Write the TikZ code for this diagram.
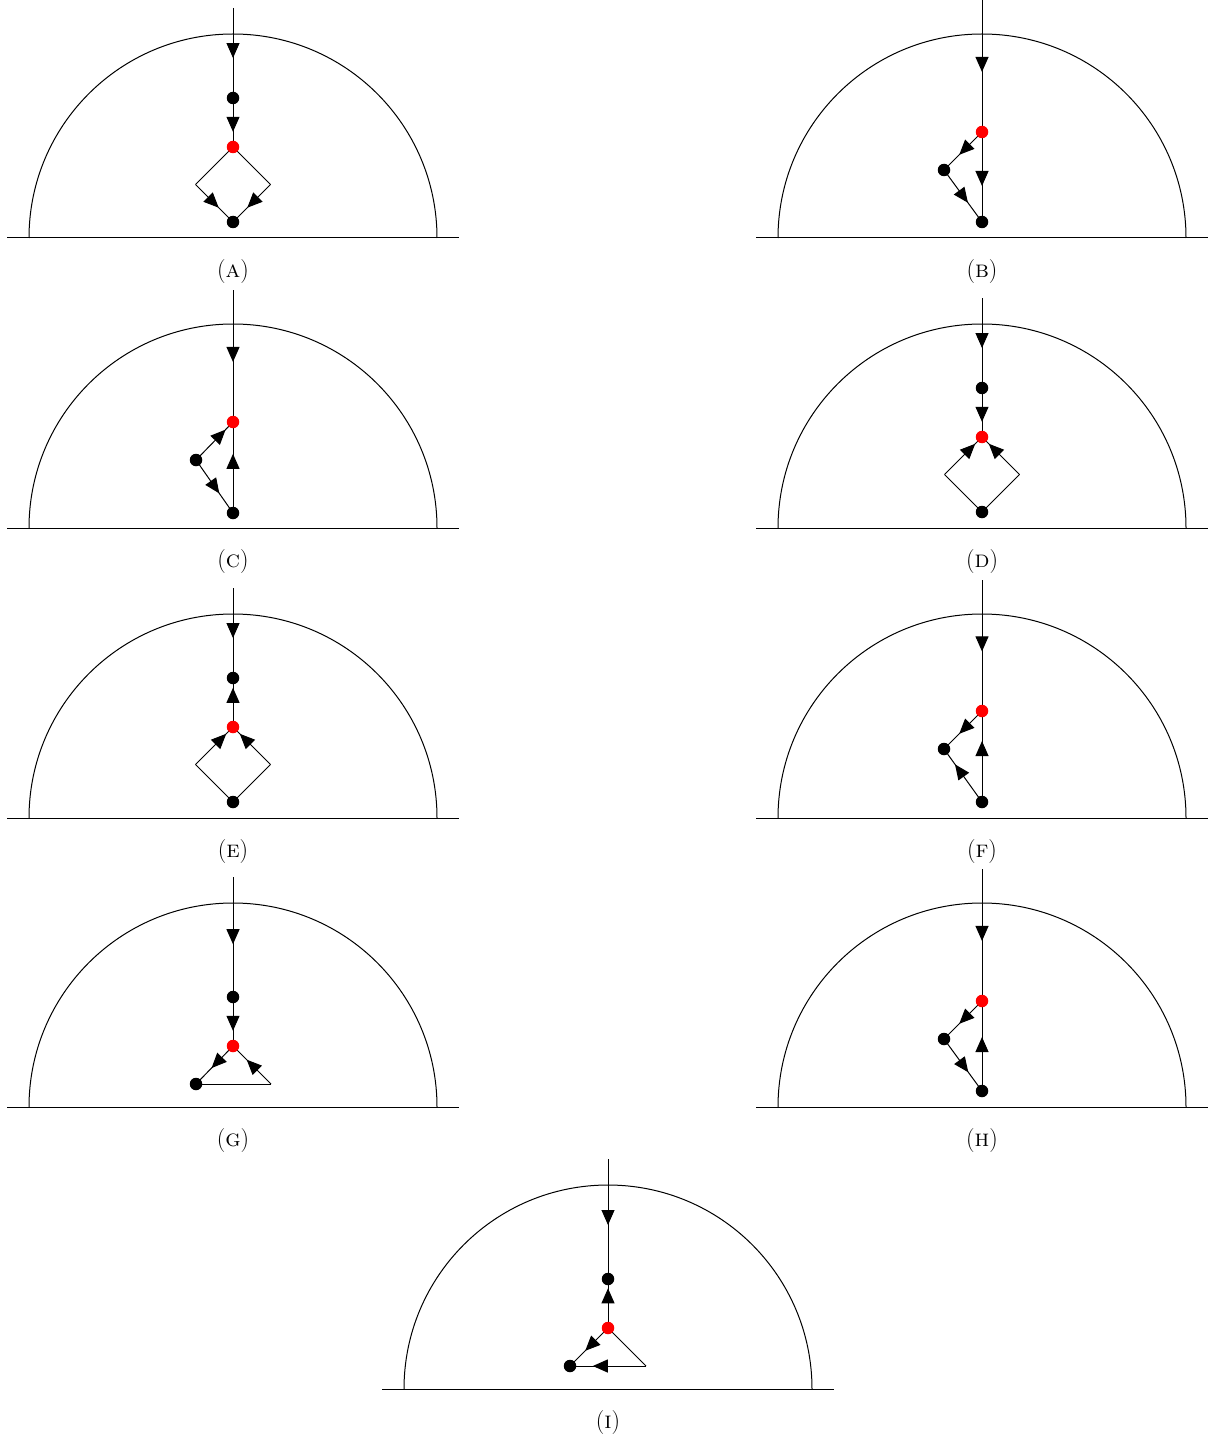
\documentclass[tikz,border=0pt]{standalone}
\usetikzlibrary{arrows.meta,decorations.markings}
\tikzset{
  ln/.style={line width=1pt, black},
  baseln/.style={line width=1pt, black},
  arr/.style={postaction={decorate}, decoration={markings, mark=at position #1 with {\arrow{Triangle[length=15pt,width=13pt]}}}},
  bdot/.style={circle, fill=black, inner sep=0pt, minimum size=12.5pt},
  rdot/.style={circle, fill=red, inner sep=0pt, minimum size=12.5pt},
  captext/.style={anchor=base, inner sep=0pt, font=\fontsize{24}{28}\selectfont},
}
\newcommand{\panelframe}[2]{%
  \draw[baseln] (-226,0) -- (226,0);
  \draw[baseln] (204,0) arc[start angle=0,end angle=180,radius=204];
  \node[captext] (#2) at (0,-39.5) {(\textsc{#1})};
}
\begin{document}
\begin{tikzpicture}[x=1pt,y=1pt]
\useasboundingbox (0,0) rectangle (1210,-1439);

% ---------- A ----------
\begin{scope}[shift={(233,-238)}]
\panelframe{a}{capA}
\coordinate (aT) at (0,230);
\coordinate (aD) at (0,140);
\coordinate (aR) at (0,91);
\coordinate (aL) at (-37.5,53.5);
\coordinate (aRc) at (37.5,53.5);
\coordinate (aB) at (0,16);
\draw[ln, arr=0.556] (aT) -- (aD);
\draw[ln, arr=0.69] (aD) -- (aR);
\draw[ln] (aR) -- (aL);
\draw[ln, arr=0.62] (aL) -- (aB);
\draw[ln] (aR) -- (aRc);
\draw[ln, arr=0.62] (aRc) -- (aB);
\node[bdot] (aDn) at (aD) {};
\node[rdot] (aRn) at (aR) {};
\node[bdot] (aBn) at (aB) {};
\end{scope}

% ---------- B ----------
\begin{scope}[shift={(982,-238)}]
\panelframe{b}{capB}
\coordinate (bT) at (0,238);
\coordinate (bR) at (0,106);
\coordinate (bL) at (-38,68);
\coordinate (bB) at (0,16);
\draw[ln, arr=0.545] (bT) -- (bR);
\draw[ln, arr=0.6] (bR) -- (bB);
\draw[ln, arr=0.6] (bR) -- (bL);
\draw[ln, arr=0.63] (bL) -- (bB);
\node[rdot] (bRn) at (bR) {};
\node[bdot] (bLn) at (bL) {};
\node[bdot] (bBn) at (bB) {};
\end{scope}

% ---------- C ----------
\begin{scope}[shift={(233,-528)}]
\panelframe{c}{capC}
\coordinate (cT) at (0,238);
\coordinate (cR) at (0,106);
\coordinate (cL) at (-37,68);
\coordinate (cB) at (0,15);
\draw[ln, arr=0.545] (cT) -- (cR);
\draw[ln, arr=0.65] (cB) -- (cR);
\draw[ln, arr=0.8] (cL) -- (cR);
\draw[ln, arr=0.63] (cL) -- (cB);
\node[rdot] (cRn) at (cR) {};
\node[bdot] (cLn) at (cL) {};
\node[bdot] (cBn) at (cB) {};
\end{scope}

% ---------- D ----------
\begin{scope}[shift={(982,-528)}]
\panelframe{d}{capD}
\coordinate (dT) at (0,230);
\coordinate (dD) at (0,140);
\coordinate (dR) at (0,91);
\coordinate (dL) at (-37.5,53.5);
\coordinate (dRc) at (37.5,53.5);
\coordinate (dB) at (0,16);
\draw[ln, arr=0.556] (dT) -- (dD);
\draw[ln, arr=0.69] (dD) -- (dR);
\draw[ln, arr=0.82] (dL) -- (dR);
\draw[ln, arr=0.82] (dRc) -- (dR);
\draw[ln] (dB) -- (dL);
\draw[ln] (dB) -- (dRc);
\node[bdot] (dDn) at (dD) {};
\node[rdot] (dRn) at (dR) {};
\node[bdot] (dBn) at (dB) {};
\end{scope}

% ---------- E ----------
\begin{scope}[shift={(233,-818)}]
\panelframe{e}{capE}
\coordinate (eT) at (0,230);
\coordinate (eD) at (0,140);
\coordinate (eR) at (0,91);
\coordinate (eL) at (-37.5,53.5);
\coordinate (eRc) at (37.5,53.5);
\coordinate (eB) at (0,16);
\draw[ln, arr=0.556] (eT) -- (eD);
\draw[ln, arr=0.8] (eR) -- (eD);
\draw[ln, arr=0.82] (eL) -- (eR);
\draw[ln, arr=0.82] (eRc) -- (eR);
\draw[ln] (eB) -- (eL);
\draw[ln] (eB) -- (eRc);
\node[bdot] (eDn) at (eD) {};
\node[rdot] (eRn) at (eR) {};
\node[bdot] (eBn) at (eB) {};
\end{scope}

% ---------- F ----------
\begin{scope}[shift={(982,-818)}]
\panelframe{f}{capF}
\coordinate (fT) at (0,238);
\coordinate (fR) at (0,107);
\coordinate (fL) at (-38,69);
\coordinate (fB) at (0,16);
\draw[ln, arr=0.545] (fT) -- (fR);
\draw[ln, arr=0.67] (fB) -- (fR);
\draw[ln, arr=0.6] (fR) -- (fL);
\draw[ln, arr=0.71] (fB) -- (fL);
\node[rdot] (fRn) at (fR) {};
\node[bdot] (fLn) at (fL) {};
\node[bdot] (fBn) at (fB) {};
\end{scope}

% ---------- G ----------
\begin{scope}[shift={(233,-1107)}]
\panelframe{g}{capG}
\coordinate (gT) at (0,230);
\coordinate (gD) at (0,110);
\coordinate (gR) at (0,61);
\coordinate (gL) at (-37,23);
\coordinate (gRc) at (38,23);
\draw[ln, arr=0.56] (gT) -- (gD);
\draw[ln, arr=0.69] (gD) -- (gR);
\draw[ln, arr=0.58] (gR) -- (gL);
\draw[ln, arr=0.64] (gRc) -- (gR);
\draw[ln] (gL) -- (gRc);
\node[bdot] (gDn) at (gD) {};
\node[rdot] (gRn) at (gR) {};
\node[bdot] (gLn) at (gL) {};
\end{scope}

% ---------- H ----------
\begin{scope}[shift={(982,-1107)}]
\panelframe{h}{capH}
\coordinate (hT) at (0,238);
\coordinate (hR) at (0,106);
\coordinate (hL) at (-38,68);
\coordinate (hB) at (0,16);
\draw[ln, arr=0.545] (hT) -- (hR);
\draw[ln, arr=0.6] (hB) -- (hR);
\draw[ln, arr=0.6] (hR) -- (hL);
\draw[ln, arr=0.64] (hL) -- (hB);
\node[rdot] (hRn) at (hR) {};
\node[bdot] (hLn) at (hL) {};
\node[bdot] (hBn) at (hB) {};
\end{scope}

% ---------- I ----------
\begin{scope}[shift={(608,-1389)}]
\panelframe{i}{capI}
\coordinate (iT) at (0,230);
\coordinate (iD) at (0,110);
\coordinate (iR) at (0,61);
\coordinate (iL) at (-38,23);
\coordinate (iRc) at (38,23);
\draw[ln, arr=0.55] (iT) -- (iD);
\draw[ln, arr=0.81] (iR) -- (iD);
\draw[ln, arr=0.6] (iR) -- (iL);
\draw[ln, arr=0.7] (iRc) -- (iL);
\draw[ln] (iR) -- (iRc);
\node[bdot] (iDn) at (iD) {};
\node[rdot] (iRn) at (iR) {};
\node[bdot] (iLn) at (iL) {};
\end{scope}

\end{tikzpicture}
\end{document}
